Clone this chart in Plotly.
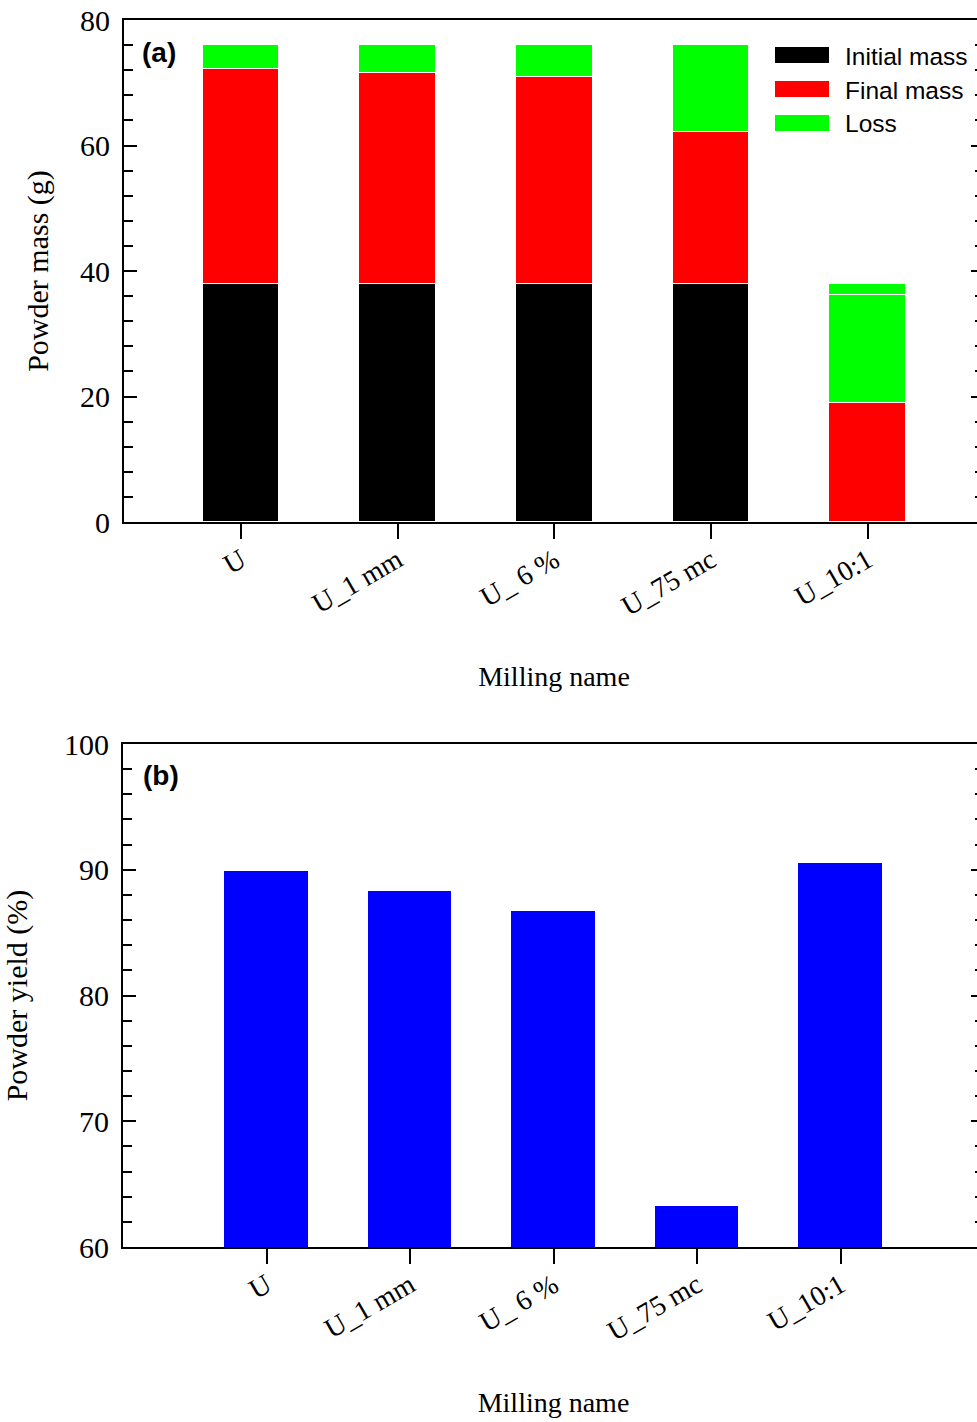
import plotly.graph_objects as go

categories = ["U", "U_1 mm", "U_ 6 %", "U_75 mc", "U_10:1"]
initial_mass = [38, 38, 38, 38, 0]
final_mass = [34.2, 33.55, 32.9, 24.1, 19.0]
loss = [3.8, 4.45, 5.1, 13.9, 17.2]
loss_extra = [0, 0, 0, 0, 1.8]
powder_yield = [89.9, 88.3, 86.7, 63.3, 90.5]

# the original figure is cropped on the right: its right spine sits just past the page edge
W, H = 985, 1422
serif = "Liberation Serif, Times New Roman, serif"
sans = "Liberation Sans, Arial, sans-serif"


def px(x):
    return x / W


def py(y):
    return 1 - y / H


idx = list(range(len(categories)))
fig = go.Figure()
edge = dict(color="white", width=1.5)
fig.add_trace(go.Bar(x=idx, y=initial_mass, name="Initial mass", marker=dict(color="#000000", line=edge),
                     width=0.49, xaxis="x", yaxis="y", showlegend=False))
fig.add_trace(go.Bar(x=idx, y=final_mass, name="Final mass", marker=dict(color="#FF0000", line=edge),
                     width=0.49, xaxis="x", yaxis="y", showlegend=False))
fig.add_trace(go.Bar(x=idx, y=loss, name="Loss", marker=dict(color="#00FF00", line=edge),
                     width=0.49, xaxis="x", yaxis="y", showlegend=False))
fig.add_trace(go.Bar(x=idx, y=loss_extra, name="Loss", marker=dict(color="#00FF00", line=edge),
                     width=0.49, xaxis="x", yaxis="y", showlegend=False))
fig.add_trace(go.Bar(x=idx, y=powder_yield, name="Powder yield", marker=dict(color="#0000FF", line=edge),
                     width=0.59, xaxis="x2", yaxis="y2", showlegend=False))

tickfont = dict(family=serif, size=30, color="black")
xcommon = dict(tickmode="array", tickvals=idx, ticktext=categories, tickangle=-30,
               ticks="outside", ticklen=15, tickwidth=2, tickcolor="black", ticklabelstandoff=-6,
               showline=True, mirror=True, linewidth=2, linecolor="black", automargin=False,
               showgrid=False, zeroline=False, tickfont=dict(family=serif, size=28, color="black"))
ycommon = dict(ticks="inside", ticklen=13, tickwidth=2, tickcolor="black", automargin=False,
               showline=True, linewidth=2, linecolor="black", mirror="ticks",
               showgrid=False, zeroline=False, ticklabeloverflow="allow",
               tickfont=tickfont, ticklabelstandoff=6)

fig.update_layout(
    template="none",
    width=W, height=H, margin=dict(l=0, r=0, t=0, b=0, pad=0),
    plot_bgcolor="white", paper_bgcolor="white", barmode="stack", bargap=0, showlegend=False,
    xaxis=dict(xcommon, domain=[px(124), px(984)], range=[-0.747, 4.742], anchor="y",
               title=dict(text="Milling name", font=dict(family=serif, size=28, color="black"), standoff=46)),
    yaxis=dict(ycommon, domain=[py(522), py(20)], range=[0, 80], dtick=20, anchor="x",
               minor=dict(ticks="inside", ticklen=9, tickwidth=1.5, tickcolor="black", dtick=4),
               title=dict(text="Powder mass (g)", font=dict(family=serif, size=30, color="black"), standoff=23)),
    xaxis2=dict(xcommon, domain=[px(123), px(984)], range=[-1.0, 5.0], anchor="y2",
                title=dict(text="Milling name", font=dict(family=serif, size=28, color="black"), standoff=47)),
    yaxis2=dict(ycommon, domain=[py(1247), py(744)], range=[60, 100], dtick=10, anchor="x2",
                minor=dict(ticks="inside", ticklen=9, tickwidth=1.5, tickcolor="black", dtick=2),
                title=dict(text="Powder yield (%)", font=dict(family=serif, size=30, color="black"), standoff=31)),
)

# legend for panel (a)
legend_items = [("Initial mass", "#000000", 55), ("Final mass", "#FF0000", 89), ("Loss", "#00FF00", 123)]
for label, color, yc in legend_items:
    fig.add_shape(type="rect", xref="paper", yref="paper", x0=px(775), x1=px(829),
                  y0=py(yc + 8), y1=py(yc - 8), fillcolor=color, line=dict(width=0))
    fig.add_annotation(x=px(843), y=py(yc + 1), xref="paper", yref="paper", text=label, showarrow=False,
                       xanchor="left", yanchor="middle", font=dict(family=sans, size=24.5, color="black"))

fig.add_annotation(x=px(140), y=py(52), xref="paper", yref="paper", text="<b>(a)</b>", showarrow=False,
                   xanchor="left", yanchor="middle", font=dict(family=sans, size=28, color="black"))
fig.add_annotation(x=px(141), y=py(775), xref="paper", yref="paper", text="<b>(b)</b>", showarrow=False,
                   xanchor="left", yanchor="middle", font=dict(family=sans, size=28, color="black"))

fig.write_html(
    "out.html",
    config={"displayModeBar": False},
    post_script=(
        "document.documentElement.style.margin='0';"
        "document.body.style.margin='0';"
        "document.body.style.overflow='hidden';"
        "document.documentElement.style.overflow='hidden';"
    ),
)
